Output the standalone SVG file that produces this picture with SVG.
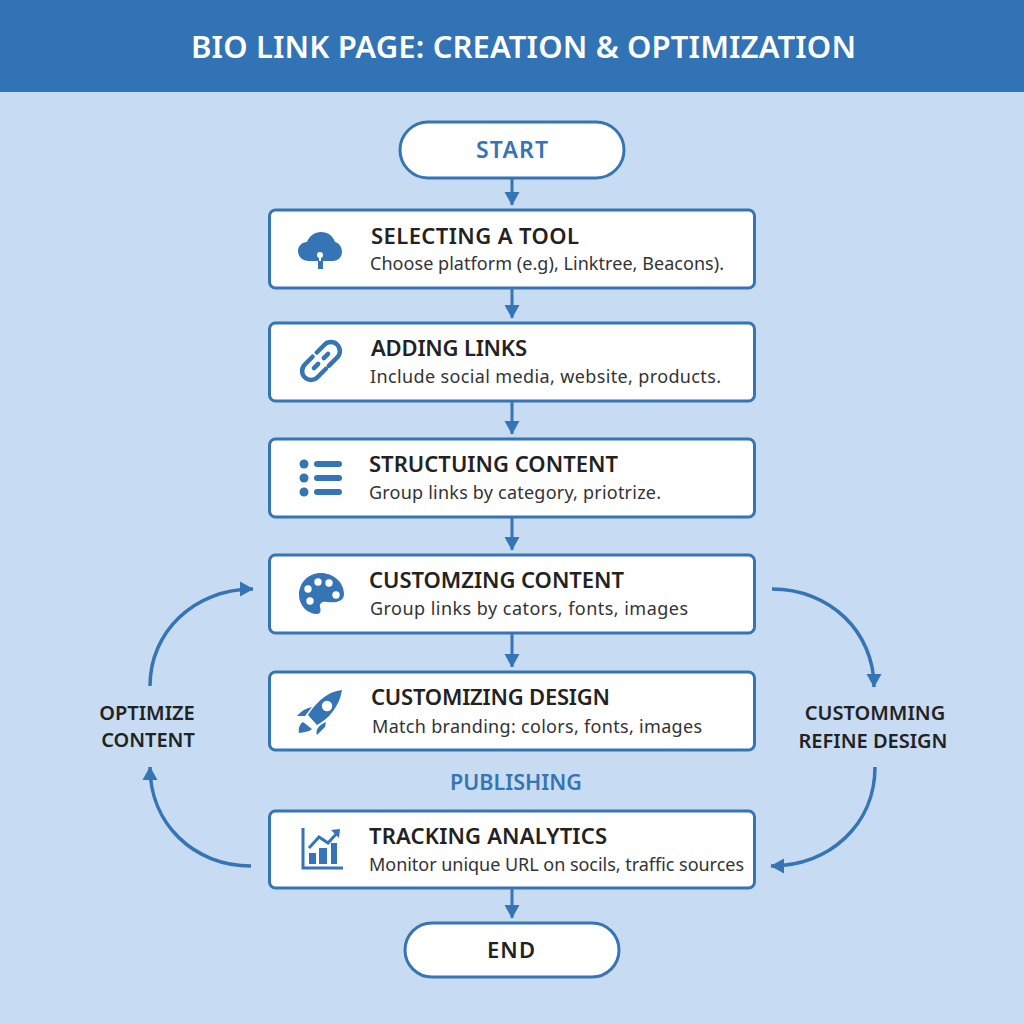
<svg xmlns="http://www.w3.org/2000/svg" width="1024" height="1024" viewBox="0 0 1024 1024">
<style>
.box{fill:#fff;stroke:#3574b5;stroke-width:3}
.t{font-family:"Noto Sans","Open Sans",sans-serif;font-size:22px;font-weight:600;fill:#222}
.s{font-family:"Noto Sans","Open Sans",sans-serif;font-size:18px;fill:#333}
.l{font-family:"Noto Sans","Open Sans",sans-serif;font-size:20px;font-weight:600;fill:#222;text-anchor:middle}
.c{font-family:"Noto Sans","Open Sans",sans-serif;font-size:23px;font-weight:600;fill:#3574b5;text-anchor:middle}
.i{fill:#3574b5}
.w{fill:none;stroke:#3574b5;stroke-width:3}
.ln{fill:none;stroke:#3574b5;stroke-width:3;marker-end:url(#a)}
.cv{stroke-width:3.500}
</style>
<defs><marker id="a" markerUnits="userSpaceOnUse" markerWidth="15" markerHeight="16" refX="13" refY="8" orient="auto"><path d="M0 0.5L13.5 8L0 15.5z" fill="#3574b5"/></marker></defs>
<rect width="1024" height="1024" fill="#c7dcf2"/>
<rect width="1024" height="92" fill="#3273b5"/>
<text x="191" y="58" textLength="665" font-family="Noto Sans,Open Sans,sans-serif" font-size="31" font-weight="600" fill="#fff">BIO LINK PAGE: CREATION &amp; OPTIMIZATION</text>
<g id="connectors">
<path class="ln" d="M512 179V205"/><path class="ln" d="M512 288V318"/><path class="ln" d="M512 401V434"/><path class="ln" d="M512 517V550"/><path class="ln" d="M512 633V667"/><path class="ln" d="M512 888V918"/>
<path class="ln cv" d="M150 686C150 632 194 589 253 589"/>
<path class="ln cv" d="M251 866C194 866 150 824 150 767"/>
<path class="ln cv" d="M772 589C830 589 874 632 874 687"/>
<path class="ln cv" d="M875 767C875 824 830 866 771 866"/>
</g>
<g id="start"><rect class="box" x="400" y="122" width="224" height="56" rx="28"/><text class="c" x="476" y="158" style="text-anchor:start" textLength="72">START</text></g>
<g id="selecting"><rect class="box" x="269.500" y="210" width="485" height="78" rx="6"/>
<path class="i" d="M309 261C302 261 298 256 298 251C298 246 302 242 307 242C309 236 315 232 321 232C328 232 333 236 335 242C339 243 342 247 342 252C342 257 338 261 333 261H323V269H318V261Z"/><circle cx="320" cy="255" r="3" fill="#fff"/><path d="M320 256V261" stroke="#fff" stroke-width="2"/>
<text class="t" x="371" y="244" textLength="208">SELECTING A TOOL</text><text class="s" x="370" y="270" textLength="354">Choose platform (e.g), Linktree, Beacons).</text></g>
<g id="adding"><rect class="box" x="269.500" y="323" width="485" height="78" rx="6"/>
<g transform="rotate(-45 321 361)" fill="none" stroke="#3574b5" stroke-width="4.500" stroke-linecap="round"><path d="M318 352H307a9 9 0 0 0 0 18H319"/><path d="M324 352H335a9 9 0 0 1 0 18H323"/><path d="M311 361H317M325 361H331"/></g>
<text class="t" x="371" y="356" textLength="156">ADDING LINKS</text><text class="s" x="370" y="383" textLength="351">Include social media, website, products.</text></g>
<g id="structuring"><rect class="box" x="269.500" y="439" width="485" height="78" rx="6"/>
<g class="i"><circle cx="304" cy="464" r="4.500"/><circle cx="304" cy="478" r="4.500"/><circle cx="304" cy="492" r="4.500"/><rect x="314" y="461" width="28" height="6" rx="3"/><rect x="314" y="475" width="28" height="6" rx="3"/><rect x="314" y="489" width="28" height="6" rx="3"/></g>
<text class="t" x="369" y="472" textLength="249">STRUCTUING CONTENT</text><text class="s" x="369" y="499" textLength="292">Group links by category, priotrize.</text></g>
<g id="customizing-content"><rect class="box" x="269.500" y="555" width="485" height="78" rx="6"/>
<path class="i" d="M321 573C308 573 299 583 299 595C299 606 308 614 317 614C321 614 321 610 320 607C319 603 323 601 327 602C335 603 344 602 344 594C344 582 333 573 321 573Z"/><g fill="#fff"><circle cx="308" cy="589" r="3.700"/><circle cx="318" cy="582" r="3.700"/><circle cx="329" cy="583" r="3.700"/><circle cx="336" cy="595" r="3.700"/><circle cx="310" cy="601" r="3.700"/></g>
<text class="t" x="369" y="588" textLength="255">CUSTOMZING CONTENT</text><text class="s" x="370" y="615" textLength="318">Group links by cators, fonts, images</text></g>
<g id="customizing-design"><rect class="box" x="269.500" y="672" width="485" height="78" rx="6"/>
<path class="i" d="M342 690C336 691 332 692 329 694C320 699 313 707 308 715L317 725C326 720 333 713 338 703C340 699 341 695 342 690Z"/><circle cx="327" cy="706" r="5.200" fill="#fff"/>
<path class="i" d="M297 716C301 711 306 708 312 707L305 716ZM317 735C315 730 319 725 326 722L325 727ZM299 733C298 728 300 724 303 722L312 729C309 732 304 732 299 733Z"/>
<text class="t" x="371" y="705" textLength="239">CUSTOMIZING DESIGN</text><text class="s" x="372" y="733" textLength="330">Match branding: colors, fonts, images</text></g>
<text id="publishing" class="c" x="516" y="790" style="font-size:21.500px">PUBLISHING</text>
<g id="tracking"><rect class="box" x="269.500" y="811" width="485" height="77" rx="6"/>
<path class="w" d="M303 828V868H343"/><g class="i"><rect x="309" y="853" width="7" height="11"/><rect x="319" y="848" width="8" height="16"/><rect x="331" y="843" width="6" height="21"/></g>
<path class="w" d="M309 848L319 837L328 843L338 832"/><path class="i" d="M331 830L340 829L339 838Z"/>
<text class="t" x="369" y="844" textLength="238">TRACKING ANALYTICS</text><text class="s" x="369" y="871" textLength="375">Monitor unique URL on socils, traffic sources</text></g>
<g id="end"><rect class="box" x="405" y="923" width="214" height="54" rx="27"/><text class="l" x="487" y="958" style="font-size:22px;text-anchor:start" textLength="48">END</text></g>
<g id="optimize"><text class="l" x="147" y="720">OPTIMIZE</text><text class="l" x="148" y="747">CONTENT</text></g>
<g id="refine"><text class="l" x="875" y="720">CUSTOMMING</text><text class="l" x="873" y="748">REFINE DESIGN</text></g>
</svg>
